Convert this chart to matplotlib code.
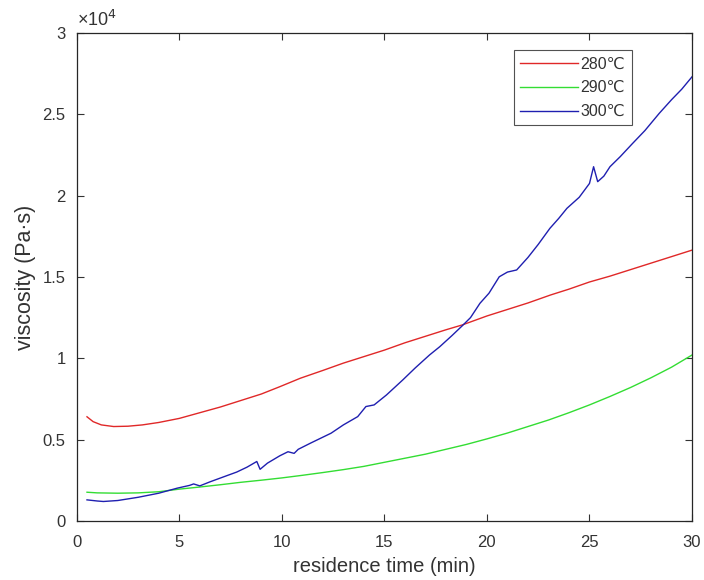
import matplotlib
matplotlib.use("Agg")
import matplotlib.pyplot as plt
from matplotlib.ticker import FuncFormatter, MultipleLocator

plt.rcParams['font.family'] = ['Liberation Sans', 'DejaVu Sans']

# 280 C
t_280 = [0.5, 0.8, 1.2, 1.8, 2.5, 3.2, 4.0, 5.0, 6.0, 7.0, 8.0, 9.0, 9.9, 10.9,
         12.0, 13.0, 14.0, 15.0, 16.0, 17.0, 18.0, 18.8, 20.0, 21.0, 22.0, 23.1,
         24.0, 25.0, 26.0, 27.0, 28.0, 29.0, 30.0]
v_280 = [6400, 6100, 5900, 5800, 5820, 5900, 6050, 6300, 6650, 7000, 7400, 7800,
         8250, 8770, 9250, 9700, 10100, 10500, 10950, 11350, 11750, 12050, 12600,
         13000, 13400, 13890, 14250, 14690, 15050, 15450, 15850, 16250, 16650]

# 290 C
t_290 = [0.5, 1.0, 2.0, 3.0, 4.0, 5.0, 6.0, 7.0, 8.0, 9.0, 10.0, 11.0, 12.0,
         13.0, 14.0, 15.0, 16.0, 17.0, 18.0, 19.0, 20.0, 21.0, 22.0, 23.0, 24.0,
         25.0, 26.0, 27.0, 28.0, 29.0, 30.0]
v_290 = [1760, 1720, 1700, 1720, 1790, 1950, 2080, 2220, 2370, 2500, 2640, 2800,
         2970, 3150, 3350, 3600, 3850, 4100, 4400, 4700, 5040, 5400, 5800, 6200,
         6650, 7130, 7650, 8200, 8800, 9450, 10200]

# 300 C
t_300 = [0.5, 1.0, 1.3, 2.0, 3.0, 4.0, 4.9, 5.5, 5.7, 6.0, 6.5, 7.3, 7.8, 8.3,
         8.78, 8.94, 9.3, 9.9, 10.3, 10.6, 10.8, 11.4, 12.4, 13.0, 13.7, 14.1,
         14.5, 15.1, 15.9, 16.5, 17.2, 17.7, 18.3, 18.8, 19.2, 19.66, 20.1, 20.6,
         21.0, 21.45, 22.0, 22.5, 23.07, 23.5, 23.9, 24.5, 25.0, 25.2, 25.4, 25.7,
         26.0, 26.5, 27.1, 27.7, 28.4, 29.0, 29.5, 30.0]
v_300 = [1290, 1220, 1190, 1250, 1450, 1700, 2010, 2180, 2270, 2150, 2400, 2770,
         3000, 3300, 3650, 3170, 3550, 4000, 4250, 4150, 4400, 4780, 5390, 5900,
         6410, 7030, 7130, 7740, 8670, 9400, 10200, 10710, 11400, 12000, 12500,
         13380, 14000, 15010, 15300, 15430, 16200, 17000, 17990, 18600, 19220,
         19900, 20750, 21780, 20860, 21200, 21780, 22400, 23210, 24000, 25060,
         25900, 26550, 27310]

txt = '#333333'

fig = plt.figure(figsize=(7.04, 5.80), dpi=100)
ax = fig.add_axes([0.109, 0.102, 0.874, 0.841])

ax.plot(t_280, v_280, color='#e02828', lw=1.0, label='280\u2103')
ax.plot(t_290, v_290, color='#33dd33', lw=1.0, label='290\u2103')
ax.plot(t_300, v_300, color='#1f1fb0', lw=1.0, label='300\u2103')

ax.set_xlim(0, 30)
ax.set_ylim(0, 30000)
ax.xaxis.set_major_locator(MultipleLocator(5))
ax.yaxis.set_major_locator(MultipleLocator(5000))
ax.yaxis.set_major_formatter(FuncFormatter(lambda v, p: '%g' % (v / 1e4)))
ax.tick_params(direction='in', top=True, right=True, length=5, width=0.8,
               labelsize=12, colors=txt)
ax.tick_params(axis='x', pad=10)
ax.tick_params(axis='y', pad=8)
for s in ax.spines.values():
    s.set_linewidth(0.9)
    s.set_color('#262626')

ax.text(0.0, 1.006, '\u00d710$^4$', transform=ax.transAxes, fontsize=13,
        color=txt, va='bottom', ha='left')

ax.set_xlabel('residence time (min)', fontsize=14.5, color=txt, labelpad=5)
ax.set_ylabel('viscosity (Pa\u00b7s)', fontsize=15.5, color=txt, labelpad=5)

leg = ax.legend(loc='upper right', bbox_to_anchor=(0.902, 0.965), fontsize=11.5,
                frameon=True, fancybox=False, edgecolor='#262626',
                handlelength=3.6, handletextpad=0.2, borderpad=0.4,
                labelspacing=0.55, borderaxespad=0)
leg.get_frame().set_linewidth(0.8)
for t in leg.get_texts():
    t.set_color(txt)

fig.savefig('out.png', dpi=100)
